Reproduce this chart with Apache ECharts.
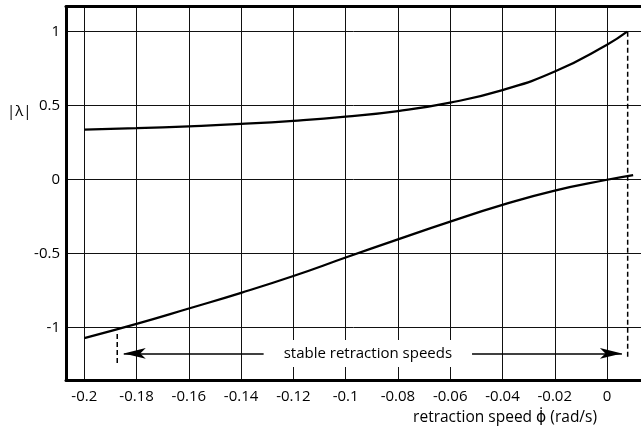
<!DOCTYPE html>
<html>
<head>
<meta charset="utf-8">
<script src="https://cdn.jsdelivr.net/npm/echarts@6/dist/echarts.min.js"></script>
<style>html,body{margin:0;padding:0;background:#fff}#c{width:641px;height:434px}</style>
</head>
<body>
<div id="c"></div>
<script>
// ---- data ----
const xTicks = [-0.2, -0.18, -0.16, -0.14, -0.12, -0.1, -0.08, -0.06, -0.04, -0.02, 0];
const xTickLabels = ['-0.2', '-0.18', '-0.16', '-0.14', '-0.12', '-0.1', '-0.08', '-0.06', '-0.04', '-0.02', '0'];
const yTicks = [-1, -0.5, 0, 0.5, 1];
const yTickLabels = ['-1', '-0.5', '0', '0.5', '1'];

const upperX = [-0.2, -0.18, -0.16, -0.14, -0.12, -0.1, -0.08, -0.06, -0.04, -0.02, 0, 0.0077];
const upperY = [0.338, 0.347, 0.36, 0.376, 0.397, 0.425, 0.463, 0.52, 0.605, 0.73, 0.912, 1.0];

const lowerX = [-0.2, -0.18, -0.16, -0.14, -0.12, -0.1, -0.08, -0.06, -0.04, -0.02, 0, 0.01];
const lowerY = [-1.073, -0.977, -0.873, -0.767, -0.653, -0.528, -0.405, -0.285, -0.172, -0.075, -0.002, 0.03];

const leftBoundX = [-0.1874, -0.1874];
const leftBoundY = [-1.045, -1.243];
const rightBoundX = [0.0079, 0.0079];
const rightBoundY = [1.0, -1.21];

const arrowX = [-0.1849, 0.0057];
const arrowY = -1.177;
const rangeLabel = 'stable retraction speeds';

const xNameParts = ['retraction speed ', '\u03D5\u0307', ' (rad/s)'];
const yName = '|\u03BB|';

// ---- chart ----
const pairs = (xs, ys) => xs.map((x, i) => [x, ys[i]]);
const FONT = 'Open Sans';
const chart = echarts.init(document.getElementById('c'), null, { renderer: 'canvas' });

const option = {
  animation: false,
  backgroundColor: '#fff',
  textStyle: { fontFamily: FONT },
  grid: { left: 66, right: 0, top: 6.5, bottom: 54, containLabel: false },
  xAxis: [{
    type: 'value', position: 'bottom',
    min: -0.207, max: 0.013,
    axisLine: { show: true, onZero: false, lineStyle: { color: '#000', width: 3 } },
    axisTick: { show: false, customValues: xTicks },
    axisLabel: {
      customValues: xTicks, margin: 9, color: '#000', fontSize: 15, fontFamily: FONT,
      formatter: v => { const i = xTicks.findIndex(t => Math.abs(t - v) < 1e-9); return i >= 0 ? xTickLabels[i] : ''; }
    },
    splitLine: { show: true, lineStyle: { color: '#111', width: 1 } }
  }, {
    type: 'value', position: 'top',
    min: -0.207, max: 0.013,
    axisLine: { show: true, onZero: false, lineStyle: { color: '#000', width: 3 } },
    axisTick: { show: false }, axisLabel: { show: false }, splitLine: { show: false }
  }],
  yAxis: {
    type: 'value',
    min: -1.3566, max: 1.1705,
    axisLine: { show: true, onZero: false, lineStyle: { color: '#000', width: 3 } },
    axisTick: { show: false, customValues: yTicks },
    axisLabel: {
      customValues: yTicks, margin: 6, color: '#000', fontSize: 15, fontFamily: FONT,
      formatter: v => { const i = yTicks.findIndex(t => Math.abs(t - v) < 1e-9); return i >= 0 ? yTickLabels[i] : ''; }
    },
    splitLine: { show: true, lineStyle: { color: '#111', width: 1 } }
  },
  series: [
    {
      type: 'line', data: pairs(upperX, upperY), showSymbol: false, smooth: true,
      lineStyle: { color: '#000', width: 2.2 }, z: 5
    },
    {
      type: 'line', data: pairs(lowerX, lowerY), showSymbol: false, smooth: true,
      lineStyle: { color: '#000', width: 2.2 }, z: 5
    },
    {
      type: 'line', data: pairs(leftBoundX, leftBoundY), showSymbol: false,
      lineStyle: { color: '#000', width: 1.5, type: [5, 3] }, z: 4
    },
    {
      type: 'line', data: pairs(rightBoundX, rightBoundY), showSymbol: false,
      lineStyle: { color: '#000', width: 1.5, type: [5, 3] }, z: 4,
      markLine: {
        silent: true,
        symbol: ['arrow', 'arrow'],
        symbolSize: [8, 22],
        lineStyle: { color: '#000', width: 1.5, type: 'solid' },
        label: {
          show: true, position: 'insideMiddle', distance: 0, formatter: rangeLabel,
          color: '#000', fontSize: 15, fontFamily: FONT,
          backgroundColor: '#fff', padding: [6, 20, 6, 20], offset: [-5, 0]
        },
        data: [[{ coord: [arrowX[0], arrowY] }, { coord: [arrowX[1], arrowY] }]]
      }
    }
  ],
  graphic: [
    { type: 'text', left: 7, top: 104, style: { text: yName, font: '15px "' + FONT + '"', fill: '#000' } },
    {
      type: 'text', right: 44, top: 410,
      style: {
        text: '{a|' + xNameParts[0] + '}{p|' + xNameParts[1] + '}{a|' + xNameParts[2] + '}',
        rich: {
          a: { fontFamily: FONT, fontSize: 15.5, fill: '#000', color: '#000' },
          p: { fontFamily: 'DejaVu Sans', fontSize: 15.5, fill: '#000', color: '#000' }
        }
      }
    }
  ]
};
chart.setOption(option);
</script>
</body>
</html>
